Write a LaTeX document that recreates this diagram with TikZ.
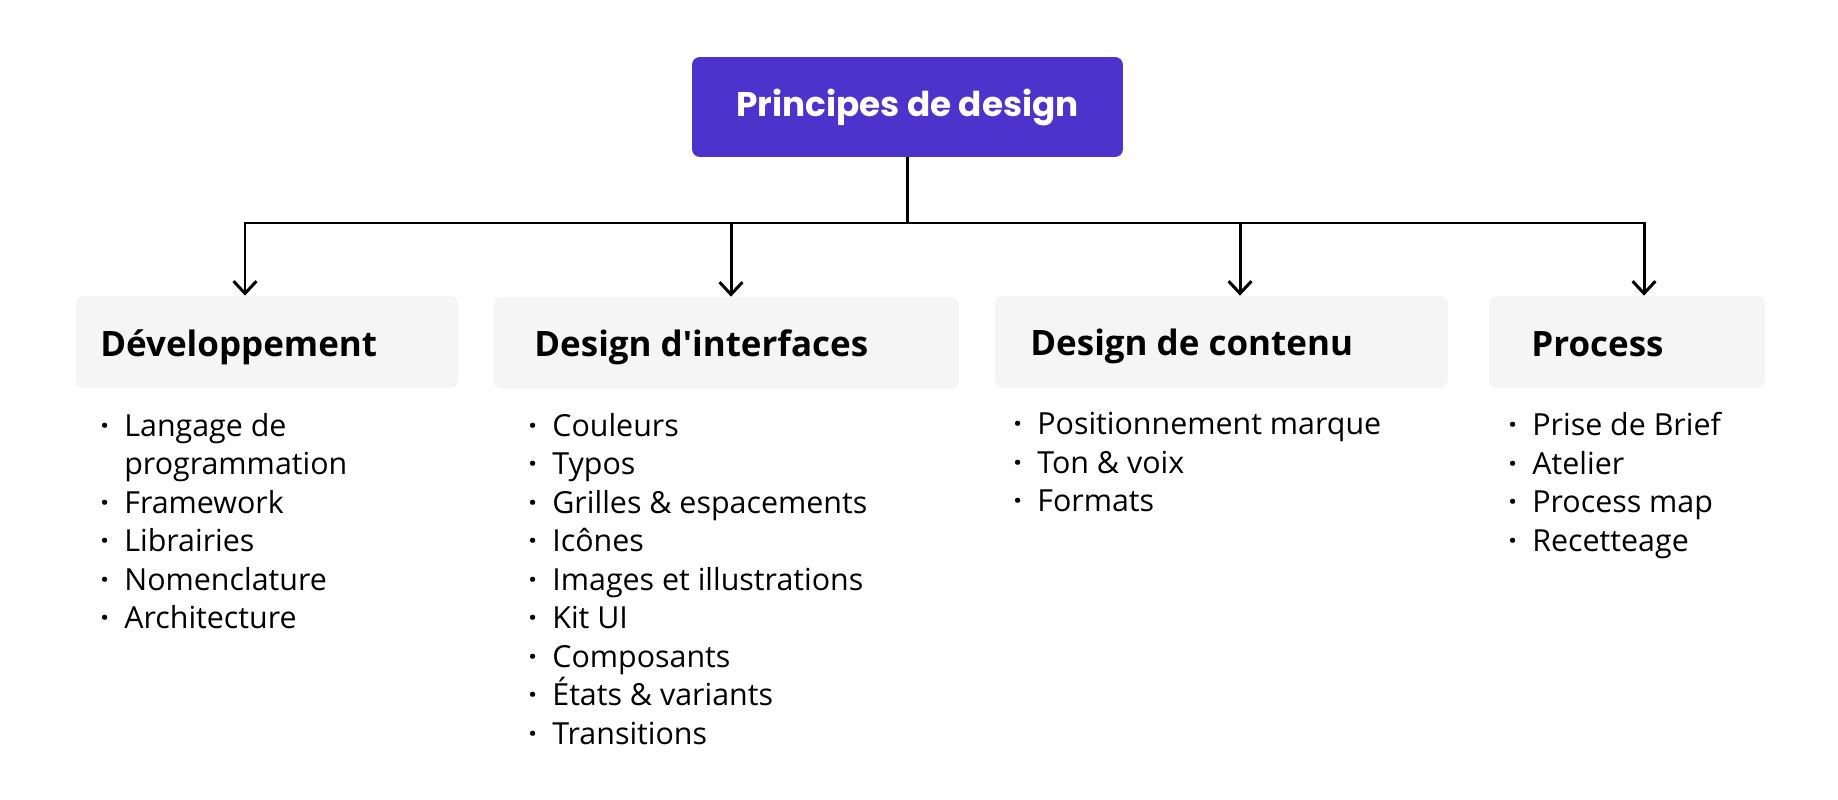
\documentclass[tikz,border=0pt]{standalone}
\usepackage{fontspec}
\setmainfont{Open Sans}
\newfontfamily\titrefont{Poppins}
\usepackage{xcolor}
\usepackage{tikz}
\usetikzlibrary{arrows.meta, positioning}

\definecolor{rootviolet}{RGB}{75,51,204}
\definecolor{boxgris}{RGB}{245,245,245}
\newcommand{\puce}{\makebox[0.48cm][l]{\bfseries·}}
\newcommand{\suite}{\hspace*{0.48cm}}

\begin{document}
\begin{tikzpicture}[x=0.02cm, y=-0.02cm,
        root/.style={rectangle, rounded corners=4.5pt, fill=rootviolet, text=white,
        minimum width=8.62cm, minimum height=2cm, inner sep=0pt,
        font=\titrefont\bfseries\fontsize{19.5}{24}\selectfont},
        catbox/.style={rectangle, rounded corners=4.5pt, fill=boxgris,
        minimum height=1.84cm, inner sep=0pt},
        cattitle/.style={anchor=base west, inner sep=0pt, font=\bfseries\fontsize{19.9}{24}\selectfont},
        liste/.style={anchor=north west, inner sep=0pt, align=left,
        font=\fontsize{17.3}{21.9}\selectfont},
        line/.style={line width=1.7pt, black},
        arrow/.style={line, -{Straight Barb[length=7pt, width=13pt]}}
    ]

    % frame
    \useasboundingbox (0,0) rectangle (1838,800);
    \fill[white] (0,0) rectangle (1838,800);

    % Root
    \node[root] (principes) at (907.5,107) {\raisebox{-2pt}{Principes de design}};

    % Categories
    \node[catbox, minimum width=7.64cm] (dev)     at (267,342)    {};
    \node[catbox, minimum width=9.3cm]  (interf)  at (726.5,343)  {};
    \node[catbox, minimum width=9.06cm] (contenu) at (1221.5,342) {};
    \node[catbox, minimum width=5.52cm] (process) at (1627,342)   {};

    \node[cattitle] (devT)     at (100,357)  {Développement};
    \node[cattitle] (interfT)  at (534,357)  {Design d\textquotesingle interfaces};
    \node[cattitle] (contenuT) at (1030,356) {Design de contenu};
    \node[cattitle] (processT) at (1531,357) {Process};

    % Connections
    \coordinate (j1) at (245,223);
    \coordinate (j2) at (731,223);
    \coordinate (j3) at (1240,223);
    \coordinate (j4) at (1644,223);
    \draw[arrow] (principes.south) |- (j1) -- (j1 |- dev.north);
    \draw[arrow] (principes.south) |- (j4) -- (j4 |- process.north);
    \draw[arrow] (j2) -- (j2 |- interf.north);
    \draw[arrow] (j3) -- (j3 |- contenu.north);

    % Lists
    \node[liste] (devL) at (100,413)
        {\puce Langage de\\\suite programmation\\\puce Framework\\\puce Librairies\\\puce Nomenclature\\\puce Architecture};
    \node[liste] (interfL) at (528,413)
        {\puce Couleurs\\\puce Typos\\\puce Grilles \& espacements\\\puce Icônes\\\puce Images et illustrations\\\puce Kit UI\\\puce Composants\\\puce États \& variants\\\puce Transitions};
    \node[liste] (contenuL) at (1013,412)
        {\puce Positionnement marque\\\puce Ton \& voix\\\puce Formats};
    \node[liste] (processL) at (1508,412)
        {\puce Prise de Brief\\\puce Atelier\\\puce Process map\\\puce Recetteage};

\end{tikzpicture}
\end{document}
